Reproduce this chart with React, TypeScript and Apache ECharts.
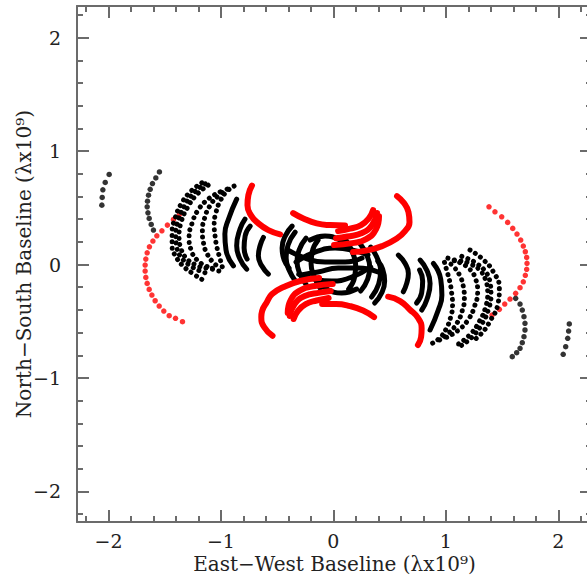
import React, { useEffect, useRef } from "react";
import * as echarts from "echarts";

type Pt = [number, number];

// ---------- axis setup ----------
const xRange: [number, number] = [-2.28, 2.3];
const yRange: [number, number] = [-2.27, 2.28];
const xTitle = "East\u2212West Baseline (\u03bbx10\u2079)";
const yTitle = "North\u2212South Baseline (\u03bbx10\u2079)";

// ---------- black outer arcs, individual dots ----------
const westFarDots: Pt[] = [[-1.994, 0.795], [-2.029, 0.724], [-2.05, 0.659], [-2.056, 0.592], [-2.059, 0.524]];
const eastFarDots: Pt[] = [[2.044, -0.791], [2.066, -0.724], [2.084, -0.65], [2.092, -0.586], [2.098, -0.524]];
const westArcDots: Pt[] = [[-1.547, 0.817], [-1.579, 0.764], [-1.609, 0.714], [-1.629, 0.664], [-1.644, 0.612], [-1.653, 0.559], [-1.656, 0.509], [-1.649, 0.456], [-1.638, 0.407], [-1.62, 0.354], [-1.6, 0.304]];
const eastArcDots: Pt[] = [[1.621, -0.298], [1.66, -0.348], [1.68, -0.401], [1.695, -0.46], [1.704, -0.518], [1.704, -0.577], [1.695, -0.636], [1.68, -0.689], [1.66, -0.738], [1.63, -0.777], [1.591, -0.812]];

// ---------- red outer arcs, individual dots ----------
const westRedDots: Pt[] = [[-1.369, 0.442], [-1.422, 0.398], [-1.476, 0.348], [-1.525, 0.298], [-1.57, 0.254], [-1.605, 0.207], [-1.636, 0.157], [-1.656, 0.104], [-1.668, 0.048], [-1.674, -0.004], [-1.674, -0.057], [-1.668, -0.113], [-1.656, -0.166], [-1.638, -0.219], [-1.614, -0.269], [-1.585, -0.319], [-1.549, -0.366], [-1.508, -0.41], [-1.46, -0.451], [-1.404, -0.474], [-1.342, -0.504]];
const eastRedDots: Pt[] = [[1.384, 0.509], [1.437, 0.465], [1.497, 0.421], [1.55, 0.372], [1.595, 0.319], [1.633, 0.269], [1.666, 0.216], [1.689, 0.163], [1.707, 0.113], [1.719, 0.063], [1.722, 0.011], [1.719, -0.042], [1.707, -0.095], [1.689, -0.152], [1.66, -0.204], [1.621, -0.254], [1.571, -0.304], [1.524, -0.348], [1.476, -0.395], [1.411, -0.445]];

// ---------- black nested dotted arcs (sampled tracks) ----------
const westNest1: Pt[] = [[-1.17, 0.721], [-1.274, 0.639], [-1.354, 0.533], [-1.407, 0.41], [-1.434, 0.286], [-1.434, 0.163], [-1.398, 0.066], [-1.336, -0.013], [-1.256, -0.075], [-1.17, -0.13]];
const westNest2: Pt[] = [[-1.14, 0.712], [-1.245, 0.628], [-1.326, 0.515], [-1.38, 0.392], [-1.402, 0.268], [-1.392, 0.15], [-1.348, 0.057], [-1.278, -0.006], [-1.196, -0.052], [-1.108, -0.082]];
const westNest3: Pt[] = [[-1.114, 0.7], [-1.22, 0.612], [-1.3, 0.498], [-1.354, 0.374], [-1.372, 0.251], [-1.354, 0.137], [-1.3, 0.048], [-1.22, -0.004], [-1.132, -0.031], [-1.043, -0.033]];
const westNest4: Pt[] = [[-1.007, 0.641], [-1.114, 0.577], [-1.203, 0.48], [-1.256, 0.366], [-1.283, 0.242], [-1.265, 0.128], [-1.212, 0.04], [-1.132, -0.013], [-1.052, -0.048], [-0.978, -0.063]];
const westNest5: Pt[] = [[-0.945, 0.665], [-1.03, 0.6], [-1.1, 0.515], [-1.145, 0.41], [-1.165, 0.3], [-1.155, 0.19], [-1.12, 0.09], [-1.07, 0.02], [-1.01, -0.03]];
const westNest6: Pt[] = [[-0.883, 0.692], [-0.954, 0.639], [-1.007, 0.559], [-1.043, 0.463], [-1.06, 0.357], [-1.052, 0.251], [-1.034, 0.145], [-1.007, 0.048], [-0.978, -0.057]];
const eastNest1: Pt[] = [[1.215, 0.128], [1.319, 0.055], [1.422, -0.063], [1.476, -0.21], [1.461, -0.357], [1.399, -0.489], [1.319, -0.606], [1.23, -0.68]];
const eastNest2: Pt[] = [[1.14, -0.712], [1.245, -0.628], [1.326, -0.515], [1.38, -0.392], [1.402, -0.268], [1.392, -0.15], [1.348, -0.057], [1.278, 0.006], [1.196, 0.052], [1.108, 0.082]];
const eastNest3: Pt[] = [[1.114, -0.7], [1.22, -0.612], [1.3, -0.498], [1.354, -0.374], [1.372, -0.251], [1.354, -0.137], [1.3, -0.048], [1.22, 0.004], [1.132, 0.031], [1.043, 0.033]];
const eastNest4: Pt[] = [[1.007, -0.641], [1.114, -0.577], [1.203, -0.48], [1.256, -0.366], [1.283, -0.242], [1.265, -0.128], [1.212, -0.04], [1.132, 0.013], [1.052, 0.048], [0.978, 0.063]];
const eastNest5: Pt[] = [[0.945, -0.665], [1.03, -0.6], [1.1, -0.515], [1.145, -0.41], [1.165, -0.3], [1.155, -0.19], [1.12, -0.09], [1.07, -0.02], [1.01, 0.03]];
const eastNest6: Pt[] = [[0.883, -0.692], [0.954, -0.639], [1.007, -0.559], [1.043, -0.463], [1.06, -0.357], [1.052, -0.251], [1.034, -0.145], [1.007, -0.048], [0.978, 0.057]];

// ---------- black dense (solid-looking) arcs ----------
const westC1: Pt[] = [[-0.578, -0.084], [-0.637, -0.011], [-0.667, 0.078], [-0.652, 0.166], [-0.622, 0.24]];
const eastC1: Pt[] = [[0.578, 0.084], [0.637, 0.011], [0.667, -0.078], [0.652, -0.166], [0.622, -0.24]];
const westC2: Pt[] = [[-0.771, -0.04], [-0.83, 0.048], [-0.86, 0.166], [-0.83, 0.313], [-0.786, 0.401]];
const eastC2: Pt[] = [[0.771, 0.04], [0.83, -0.048], [0.86, -0.166], [0.83, -0.313], [0.786, -0.401]];
const westC3: Pt[] = [[-0.889, -0.011], [-0.955, 0.13], [-0.965, 0.27], [-0.933, 0.4], [-0.86, 0.577]];
const eastC3: Pt[] = [[0.889, 0.011], [0.955, -0.13], [0.965, -0.27], [0.933, -0.4], [0.86, -0.577]];
const westC4: Pt[] = [[-0.367, 0.339], [-0.429, 0.251], [-0.456, 0.145], [-0.438, 0.04], [-0.394, -0.031]];
const eastC4: Pt[] = [[0.367, -0.339], [0.429, -0.251], [0.456, -0.145], [0.438, -0.04], [0.394, 0.031]];
const westC5: Pt[] = [[-0.74, 0.339], [-0.785, 0.251], [-0.794, 0.145], [-0.767, 0.048]];
const eastC5: Pt[] = [[0.74, -0.339], [0.785, -0.251], [0.794, -0.145], [0.767, -0.048]];

// central tangle
const coreT1: Pt[] = [[-0.34, 0.286], [-0.403, 0.172], [-0.42, 0.057], [-0.394, -0.048], [-0.332, -0.154]];
const coreT2: Pt[] = [[-0.243, 0.233], [-0.305, 0.128], [-0.323, 0.022], [-0.296, -0.084], [-0.234, -0.189]];
const coreT3: Pt[] = [[-0.136, 0.216], [-0.189, 0.11], [-0.198, 0.004], [-0.172, -0.101], [-0.118, -0.207]];
const coreT4: Pt[] = [[0.34, -0.286], [0.403, -0.172], [0.42, -0.057], [0.394, 0.048], [0.332, 0.154]];
const coreT5: Pt[] = [[0.243, -0.233], [0.305, -0.128], [0.323, -0.022], [0.296, 0.084], [0.234, 0.189]];
const coreT6: Pt[] = [[0.136, -0.216], [0.189, -0.11], [0.198, -0.004], [0.172, 0.101], [0.118, 0.207]];
const coreH1: Pt[] = [[-0.403, 0.128], [-0.252, 0.057], [-0.074, 0.022], [0.104, 0.022], [0.255, 0.057]];
const coreH2: Pt[] = [[-0.296, -0.093], [-0.136, -0.066], [0.042, -0.031], [0.22, -0.031], [0.397, -0.066]];
const coreH3: Pt[] = [[-0.332, 0.022], [-0.163, 0.11], [0.015, 0.145], [0.166, 0.128], [0.308, 0.084]];
const coreH4: Pt[] = [[0.332, -0.022], [0.163, -0.11], [-0.015, -0.145], [-0.166, -0.128], [-0.308, -0.084]];
const coreH5: Pt[] = [[-0.207, 0.216], [-0.074, 0.251], [0.059, 0.216], [0.148, 0.145]];
const coreH6: Pt[] = [[0.207, -0.216], [0.074, -0.251], [-0.059, -0.216], [-0.148, -0.145]];

// ---------- red dense arcs ----------
const redNW: Pt[] = [[-0.724, 0.697], [-0.756, 0.612], [-0.764, 0.524], [-0.734, 0.436], [-0.667, 0.363], [-0.578, 0.304], [-0.474, 0.266]];
const redN: Pt[] = [[-0.358, 0.454], [-0.267, 0.407], [-0.148, 0.363], [-0.029, 0.348], [0.104, 0.344]];
const redNE: Pt[] = [[0.566, 0.604], [0.628, 0.542], [0.668, 0.463], [0.677, 0.374], [0.637, 0.295], [0.557, 0.225], [0.433, 0.163], [0.291, 0.123], [0.175, 0.11]];
const redFanN1: Pt[] = [[0.024, 0.233], [0.122, 0.247], [0.255, 0.278], [0.344, 0.348], [0.388, 0.454]];
const redFanN2: Pt[] = [[0.006, 0.172], [0.166, 0.189], [0.291, 0.225], [0.38, 0.313], [0.406, 0.427]];
const redFanN3: Pt[] = [[0.042, 0.295], [0.148, 0.317], [0.246, 0.348], [0.317, 0.41], [0.353, 0.48]];
const redSW: Pt[] = [[-0.127, -0.119], [-0.296, -0.145], [-0.442, -0.198], [-0.545, -0.26], [-0.591, -0.33], [-0.634, -0.41], [-0.641, -0.463], [-0.616, -0.551], [-0.541, -0.628]];
const redS: Pt[] = [[-0.1, -0.348], [0.024, -0.348], [0.148, -0.366], [0.264, -0.405], [0.362, -0.463]];
const redSE: Pt[] = [[0.487, -0.283], [0.593, -0.322], [0.681, -0.398], [0.753, -0.471], [0.785, -0.563], [0.78, -0.639], [0.752, -0.709]];
const redFanS1: Pt[] = [[-0.024, -0.233], [-0.122, -0.247], [-0.255, -0.278], [-0.344, -0.348], [-0.388, -0.454]];
const redFanS2: Pt[] = [[-0.006, -0.172], [-0.166, -0.189], [-0.291, -0.225], [-0.38, -0.313], [-0.406, -0.427]];
const redFanS3: Pt[] = [[-0.042, -0.295], [-0.148, -0.317], [-0.246, -0.348], [-0.317, -0.41], [-0.353, -0.48]];

const blackDotted: Pt[][] = [
  westNest1, westNest2, westNest3, westNest4, westNest5, westNest6,
  eastNest1, eastNest2, eastNest3, eastNest4, eastNest5, eastNest6,
];
const blackSolid: Pt[][] = [
  westC1, eastC1, westC2, eastC2, westC3, eastC3, westC4, eastC4, westC5, eastC5,
  coreT1, coreT2, coreT3, coreT4, coreT5, coreT6, coreH1, coreH2, coreH3, coreH4, coreH5, coreH6,
];
const blackDots: Pt[][] = [westFarDots, eastFarDots, westArcDots, eastArcDots];
const redDots: Pt[][] = [westRedDots, eastRedDots];
const redSolid: Pt[][] = [redNW, redN, redNE, redFanN1, redFanN2, redFanN3, redSW, redS, redSE, redFanS1, redFanS2, redFanS3];

const BLACK = "#000000";
const RED = "#ff0000";
const FRAME = "#6b6b6b";
const FONT = "DejaVu Serif";
const TEXT = "#222222";

function fmt(v: number): string {
  if (Math.abs(v) < 1e-9) return "0";
  return v < 0 ? "\u2212" + String(Math.abs(v)) : String(v);
}

export default function App() {
  const ref = useRef<HTMLDivElement | null>(null);
  useEffect(() => {
    if (!ref.current) return;
    const chart = echarts.init(ref.current, null, { renderer: "svg" });
    const lineStyle = { color: FRAME, width: 2 };
    const baseAxis = {
      type: "value" as const,
      axisLine: { show: true, onZero: false, lineStyle },
      axisTick: { show: true, inside: true, length: 12, lineStyle },
      minorTick: { show: true, splitNumber: 5, length: 6, lineStyle },
      splitLine: { show: false },
    };
    const labelStyle = {
      fontFamily: FONT,
      fontSize: 19,
      lineHeight: 19,
      color: TEXT,
      formatter: fmt,
      showMinLabel: false,
      showMaxLabel: false,
    };
    const series: any[] = [];
    blackDotted.forEach((arc, i) =>
      series.push({
        type: "line", name: "bd" + i, data: arc, smooth: true, showSymbol: false, symbol: "none", silent: true,
        lineStyle: { color: BLACK, width: 5, type: [0.01, 6.3], cap: "round", join: "round" },
      })
    );
    blackSolid.forEach((arc, i) =>
      series.push({
        type: "line", name: "bs" + i, data: arc, smooth: true, showSymbol: false, symbol: "none", silent: true,
        lineStyle: { color: BLACK, width: 5, cap: "round", join: "round" },
      })
    );
    blackDots.forEach((arc, i) =>
      series.push({ type: "scatter", name: "bp" + i, data: arc, symbolSize: 5.5, silent: true, itemStyle: { color: BLACK } })
    );
    redDots.forEach((arc, i) =>
      series.push({ type: "scatter", name: "rp" + i, data: arc, symbolSize: 5.5, silent: true, itemStyle: { color: RED } })
    );
    redSolid.forEach((arc, i) =>
      series.push({
        type: "line", name: "rs" + i, data: arc, smooth: true, showSymbol: false, symbol: "none", silent: true,
        lineStyle: { color: RED, width: 6, cap: "round", join: "round" },
      })
    );
    chart.setOption({
      animation: false,
      backgroundColor: "#ffffff",
      grid: { left: 77, top: 6, width: 515, height: 516, containLabel: false, outerBoundsMode: "none" },
      xAxis: [
        {
          ...baseAxis, position: "bottom", min: xRange[0], max: xRange[1],
          axisLabel: { ...labelStyle, margin: 9 },
          name: xTitle, nameLocation: "middle", nameGap: 32, nameMoveOverlap: false,
          nameTextStyle: { fontFamily: FONT, fontSize: 20, lineHeight: 20, color: TEXT },
        },
        { ...baseAxis, position: "top", min: xRange[0], max: xRange[1], axisLabel: { show: false } },
      ],
      yAxis: [
        {
          ...baseAxis, position: "left", min: yRange[0], max: yRange[1],
          axisLabel: { ...labelStyle, margin: 16 },
          name: yTitle, nameLocation: "middle", nameGap: 43, nameMoveOverlap: false,
          nameTextStyle: { fontFamily: FONT, fontSize: 20, lineHeight: 20, color: TEXT },
        },
        { ...baseAxis, position: "right", min: yRange[0], max: yRange[1], axisLabel: { show: false } },
      ],
      series,
    });
    return () => chart.dispose();
  }, []);
  return (
    <div
      ref={ref}
      style={{ position: "fixed", left: 0, top: 0, width: 587, height: 582, background: "#fff" }}
    />
  );
}
